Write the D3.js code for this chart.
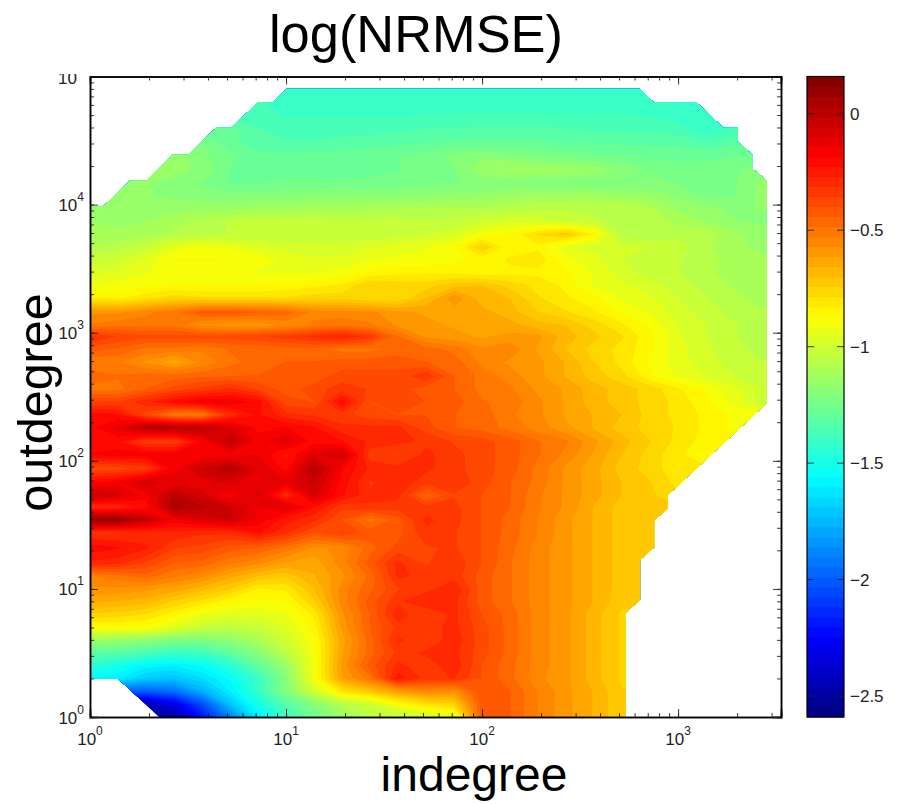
<!DOCTYPE html>
<html>
<head>
<meta charset="utf-8">
<script src="https://cdn.jsdelivr.net/npm/d3@7/dist/d3.min.js"></script>
<style>
  html, body { margin: 0; background: #fff; }
  svg { display: block; font-family: "Liberation Sans", Arial, sans-serif; }
</style>
</head>
<body>
<svg id="chart" width="909" height="804"></svg>
<script>
// log10(indegree) of each column
const indegreeLog = [0, .143, .286, .429, .571, .714, .857, 1, 1.143, 1.286, 1.429, 1.571, 1.714,
  1.857, 2, 2.143, 2.286, 2.429, 2.571, 2.714, 2.857, 3, 3.143, 3.286, 3.429, 3.571];

// log10(outdegree) of each row
const outdegreeLog = [0, .1, .2, .3, .4, .5, .6, .7, .8, .9, 1, 1.1, 1.2, 1.32, 1.44, 1.54, 1.64, 1.73,
  1.83, 1.94, 2.05, 2.15, 2.26, 2.36, 2.46, 2.56, 2.66, 2.77, 2.87, 2.97, 3.06, 3.16, 3.27, 3.37, 3.47,
  3.57, 3.67, 3.77, 3.87, 3.97, 4.07, 4.17, 4.27, 4.38, 4.48, 4.58, 4.69, 4.79, 4.91];

// log(NRMSE) x 100, one row per outdegree (bottom first), null = no data there
const _ = null;
const nrmse = [
  [_,_,_,-250,-220,-190,-160,-140,-125,-115,-105,-105,-100,-95,-40,-44,-53,-60,-66,-74],
  [_,_,-245,-230,-205,-172,-150,-133,-120,-108,-100,-88,-80,-75,-42,-44,-53,-60,-66,-74],
  [_,_,-200,-195,-178,-160,-142,-120,-100,-80,-72,-62,-55,-58,-40,-44,-53,-60,-66,-74],
  [-156,-160,-170,-172,-165,-155,-140,-120,-90,-62,-50,-24,-33,-31,-40,-47,-56,-60,-68,-75],
  [-145,-150,-158,-160,-155,-145,-130,-115,-90,-60,-42,-30,-34,-28,-40,-47,-55,-60,-68,-75],
  [-132,-133,-136,-140,-140,-130,-120,-105,-90,-62,-46,-34,-30,-30,-38,-46,-55,-60,-68,-75],
  [-112,-115,-118,-122,-122,-118,-110,-100,-88,-63,-46,-30,-36,-28,-38,-46,-55,-60,-68,-75],
  [-88,-87,-88,-95,-102,-104,-102,-96,-85,-60,-44,-34,-33,-30,-38,-46,-55,-60,-68,-75],
  [-75,-76,-79,-85,-92,-95,-95,-92,-82,-58,-44,-28,-36,-30,-40,-46,-55,-60,-68,-75],
  [-65,-66,-68,-75,-80,-86,-88,-87,-75,-55,-42,-32,-27,-30,-42,-48,-55,-60,-66,-73,-73],
  [-58,-58,-60,-63,-68,-74,-83,-82,-70,-55,-45,-36,-33,-27,-42,-48,-55,-60,-66,-72,-73],
  [-53,-50,-46,-52,-56,-64,-70,-73,-66,-58,-47,-30,-33,-33,-42,-48,-55,-60,-66,-72,-73],
  [-28,-30,-36,-44,-46,-52,-56,-62,-64,-55,-42,-30,-36,-32,-40,-48,-55,-60,-66,-72,-73],
  [-20,-22,-26,-35,-37,-42,-44,-50,-58,-56,-46,-38,-36,-35,-40,-47,-55,-60,-66,-72,-74],
  [-32,-32,-30,-28,-30,-30,-22,-30,-40,-35,-42,-42,-32,-35,-40,-46,-53,-60,-66,-72,-74],
  [10,10,-2,-15,-10,-5,-15,-25,-30,-40,-50,-42,-30,-34,-40,-46,-53,-60,-66,-72,-74],
  [-30,-28,-22,5,0,-5,-14,-10,-22,-34,-32,-33,-34,-34,-40,-44,-52,-58,-66,-72,-73],
  [-3,-8,-16,0,-8,-18,-8,-30,-8,-22,-30,-30,-46,-36,-40,-44,-52,-58,-64,-70,-73,-78],
  [-20,-15,-6,-12,-12,-8,-14,-12,-4,-20,-32,-28,-34,-32,-38,-44,-50,-58,-64,-70,-74,-80],
  [-38,-38,-34,-15,-5,2,-10,-20,2,-18,-28,-30,-30,-34,-38,-42,-50,-58,-64,-72,-76,-82],
  [-18,-16,-16,-16,-18,-16,-14,-24,-10,-5,-34,-36,-30,-34,-38,-42,-48,-54,-62,-70,-76,-82,-86],
  [-22,-22,-35,-35,-18,-2,-16,-10,-20,-22,-28,-30,-32,-36,-38,-42,-48,-52,-60,-68,-74,-80,-85],
  [-20,-12,2,2,0,-8,-20,-18,-22,-30,-30,-30,-38,-44,-46,-50,-55,-60,-66,-72,-76,-79,-84,-88],
  [-20,-22,-38,-52,-52,-30,-22,-30,-32,-34,-38,-40,-40,-44,-46,-52,-56,-62,-66,-70,-76,-80,-84,-88],
  [-36,-35,-28,-20,-15,-15,-20,-38,-40,-20,-40,-36,-40,-42,-48,-50,-56,-62,-68,-72,-76,-80,-86,-93,-102],
  [-50,-50,-44,-38,-34,-30,-36,-42,-38,-33,-36,-38,-42,-44,-50,-52,-58,-62,-68,-72,-76,-82,-88,-94,-100],
  [-46,-48,-46,-46,-45,-44,-44,-44,-42,-38,-38,-38,-32,-44,-50,-55,-60,-66,-72,-77,-86,-92,-96,-100,-104],
  [-52,-52,-58,-64,-56,-50,-46,-44,-44,-42,-42,-42,-44,-46,-54,-58,-60,-66,-74,-80,-88,-94,-98,-102,-104],
  [-42,-45,-50,-50,-52,-48,-48,-46,-46,-50,-50,-46,-46,-50,-56,-54,-62,-70,-76,-80,-86,-94,-99,-103,-106],
  [-30,-36,-38,-38,-38,-38,-36,-34,-30,-27,-33,-48,-58,-60,-62,-60,-60,-68,-73,-78,-86,-95,-100,-104,-107],
  [-52,-50,-50,-50,-58,-60,-60,-56,-52,-50,-52,-58,-60,-62,-62,-64,-68,-70,-76,-82,-88,-96,-100,-104,-106],
  [-58,-58,-54,-50,-42,-42,-44,-46,-54,-55,-56,-60,-62,-64,-64,-68,-74,-78,-82,-88,-92,-98,-102,-106,-108],
  [-82,-84,-80,-76,-78,-78,-78,-78,-76,-76,-78,-78,-70,-58,-68,-70,-78,-82,-86,-92,-95,-100,-104,-108,-110],
  [-92,-90,-88,-87,-87,-87,-87,-86,-84,-82,-74,-76,-76,-72,-70,-76,-80,-84,-92,-95,-98,-102,-106,-109,-110],
  [-97,-95,-92,-88,-88,-90,-92,-92,-92,-90,-86,-84,-84,-84,-86,-84,-84,-86,-92,-98,-102,-104,-108,-110,-112],
  [-102,-100,-95,-87,-87,-87,-88,-93,-95,-95,-92,-90,-90,-88,-86,-82,-80,-90,-94,-100,-102,-104,-107,-110,-112],
  [-108,-106,-102,-94,-90,-92,-96,-98,-98,-98,-96,-94,-92,-88,-74,-86,-84,-95,-98,-100,-100,-102,-108,-112,-114],
  [-112,-112,-110,-108,-106,-104,-104,-104,-104,-104,-104,-102,-100,-98,-90,-86,-78,-72,-84,-106,-108,-106,-106,-112,-115],
  [-113,-114,-113,-110,-107,-104,-103,-102,-102,-103,-103,-103,-104,-103,-100,-97,-98,-100,-103,-106,-106,-110,-113,-117,-118],
  [-114,-114,-115,-115,-114,-114,-112,-112,-111,-111,-110,-109,-108,-108,-108,-106,-105,-105,-106,-104,-108,-114,-116,-118,-117],
  [_,-117,-117,-118,-120,-120,-120,-119,-119,-118,-118,-118,-117,-116,-116,-114,-112,-112,-112,-114,-115,-118,-122,-122,-116],
  [_,_,-117,-118,-122,-126,-126,-125,-125,-125,-125,-124,-123,-122,-120,-120,-122,-122,-122,-122,-120,-122,-124,-122,-116],
  [_,_,_,-116,-118,-126,-128,-128,-128,-128,-127,-126,-124,-122,-114,-112,-112,-112,-114,-118,-122,-124,-124,-122,-120],
  [_,_,_,-115,-120,-125,-128,-128,-128,-128,-127,-126,-124,-120,-118,-120,-122,-124,-125,-126,-127,-127,-127,-126,-125],
  [_,_,_,_,-122,-128,-134,-134,-134,-133,-132,-131,-130,-129,-129,-129,-129,-130,-130,-131,-131,-131,-134,-131],
  [_,_,_,_,_,-128,-134,-136,-136,-136,-136,-135,-134,-134,-133,-133,-133,-134,-135,-135,-135,-137,-140,-138],
  [_,_,_,_,_,_,-136,-139,-139,-139,-139,-139,-138,-138,-138,-138,-138,-138,-138,-138,-139,-140,-141],
  [_,_,_,_,_,_,-138,-141,-141,-141,-141,-141,-141,-141,-141,-141,-141,-141,-141,-141,-142,-143,-143],
  [_,_,_,_,_,_,_,-143,-143,-143,-143,-143,-143,-143,-143,-143,-143,-143,-143,-143,-143]
];

// outline of the sampled region, in log10 units
const regionIn = [0, .068, .204, .286, .422, .5, .643, .719, .858, .935, 1.004, 2.803, 2.874, 3.092, 3.231, 3.305,
  3.305, 3.379, 3.379, 3.453, 3.453, 2.947, 2.947, 2.878, 2.878, 2.806, 2.806, 2.733, 2.733, .354, .144, 0];
const regionOut = [3.987, 3.987, 4.187, 4.187, 4.39, 4.39, 4.6, 4.6, 4.8, 4.8, 4.904, 4.904, 4.8, 4.8, 4.6, 4.6,
  4.494, 4.39, 4.281, 4.187, 2.45, 1.732, 1.628, 1.534, 1.326, 1.226, .914, .815, 0, 0, .297, .297];

const colorMin = -2.59, colorMax = 0.16, colorLevels = 64;
const colorTicks = [0, -0.5, -1, -1.5, -2, -2.5];
const decades = [1, 10, 100, 1000, 10000, 100000];

const svg = d3.select("#chart");
const margin = { top: 76.5, right: 128, bottom: 87, left: 90 };
const width = 909 - margin.left - margin.right;
const height = 804 - margin.top - margin.bottom;

const x = d3.scaleLog().domain([1, Math.pow(10, 3.525)]).range([0, width]);
const y = d3.scaleLog().domain([1, 1e5]).range([height, 0]);

const g = svg.append("g").attr("transform", "translate(" + margin.left + "," + margin.top + ")");

// MATLAB jet
function jet(t) {
  const ch = (v) => Math.round(255 * Math.max(0, Math.min(1, v)));
  return d3.rgb(ch(1.5 - Math.abs(4 * t - 3)), ch(1.5 - Math.abs(4 * t - 2)), ch(1.5 - Math.abs(4 * t - 1))).formatHex();
}
const levelColor = (i) => jet((i + 0.5) / colorLevels);
const levelValue = (i) => colorMin + (i * (colorMax - colorMin)) / colorLevels;

// fill the cells outside the region with the nearest value of the row, they get clipped anyway
const nCols = indegreeLog.length, nRows = outdegreeLog.length;
const flat = [];
for (let r = nRows - 1; r >= 0; r--) {
  const row = nrmse[r];
  const first = row.findIndex((v) => v !== null);
  for (let c = 0; c < nCols; c++) {
    let v = row[c];
    if (v === null || v === undefined) v = c < first ? row[first] : row[row.length - 1];
    flat.push(v / 100);
  }
}

const colPos = d3.scaleLinear().domain(d3.range(nCols)).range(indegreeLog);
const rowPos = d3.scaleLinear().domain(d3.range(nRows)).range(outdegreeLog.slice().reverse());
const gridPath = d3.geoPath(d3.geoTransform({
  point(px, py) {
    this.stream.point(x(Math.pow(10, colPos(px - 0.5))), y(Math.pow(10, rowPos(py - 0.5))));
  }
}));

const region = d3.zip(regionIn, regionOut).map((p) => [x(Math.pow(10, p[0])), y(Math.pow(10, p[1]))]);
svg.append("defs").append("clipPath").attr("id", "regionClip")
  .append("path").attr("d", d3.line()(region) + "Z");

const thresholds = d3.range(colorLevels).map(levelValue);
const contours = d3.contours().size([nCols, nRows]).smooth(true).thresholds(thresholds)(flat);

// filled bands, lowest first
g.append("g").attr("clip-path", "url(#regionClip)")
  .selectAll("path")
  .data(contours)
  .enter()
  .append("path")
  .attr("d", gridPath)
  .attr("fill", (d, i) => levelColor(i));

// axes, inward ticks on all four sides
function frameAxis(axisFn, scale, tx, ty, size, values) {
  g.append("g")
    .attr("transform", "translate(" + tx + "," + ty + ")")
    .call(axisFn(scale).tickValues(values).tickSize(size).tickFormat(""))
    .call((s) => s.select(".domain").attr("stroke-width", 1.5).attr("stroke", "#000"))
    .call((s) => s.selectAll(".tick line").attr("stroke", "#222").attr("stroke-width", 0.9));
}
const xMajor = decades.slice(0, 4), yMajor = decades;
const xMinor = x.ticks(), yMinor = y.ticks();
frameAxis(d3.axisBottom, x, 0, height, -4, xMinor);
frameAxis(d3.axisTop, x, 0, 0, -4, xMinor);
frameAxis(d3.axisLeft, y, 0, 0, -4, yMinor);
frameAxis(d3.axisRight, y, width, 0, -4, yMinor);
frameAxis(d3.axisBottom, x, 0, height, -8, xMajor);
frameAxis(d3.axisTop, x, 0, 0, -8, xMajor);
frameAxis(d3.axisLeft, y, 0, 0, -8, yMajor);
frameAxis(d3.axisRight, y, width, 0, -8, yMajor);

function powerLabel(sel, value) {
  sel.append("tspan").text("10");
  sel.append("tspan").attr("dy", -10).attr("font-size", 12).text(Math.round(Math.log10(value)));
}
xMajor.forEach((d) => {
  g.append("text").attr("x", x(d)).attr("y", height + 28).attr("text-anchor", "middle")
    .attr("font-size", 17).attr("fill", "#222").call(powerLabel, d);
});
yMajor.slice(0, 5).forEach((d) => {
  g.append("text").attr("x", -6).attr("y", y(d) + 6.5).attr("text-anchor", "end")
    .attr("font-size", 17).attr("fill", "#222").call(powerLabel, d);
});
// the top label is cut in the original, only the base is left
svg.append("clipPath").attr("id", "topLabel").append("rect").attr("x", 40).attr("y", 74).attr("width", 50).attr("height", 20);
svg.append("text").attr("x", 77).attr("y", 84).attr("text-anchor", "end").attr("font-size", 17).attr("fill", "#222")
  .attr("clip-path", "url(#topLabel)").text("10");

// titles
svg.append("text").attr("x", 416).attr("y", 52).attr("text-anchor", "middle").attr("font-size", 52.4).attr("fill", "#000").text("log(NRMSE)");
svg.append("text").attr("x", 474).attr("y", 791).attr("text-anchor", "middle").attr("font-size", 48).attr("fill", "#000").text("indegree");
svg.append("text").attr("transform", "translate(52,402.5) rotate(-90)").attr("text-anchor", "middle").attr("font-size", 48.5).attr("fill", "#000").text("outdegree");

// colorbar
const cbar = svg.append("g").attr("transform", "translate(807,0)");
const cbarWidth = 37;
const c = d3.scaleLinear().domain([colorMin, colorMax]).range([717, 76.5]);
cbar.selectAll("rect.level")
  .data(d3.range(colorLevels))
  .enter()
  .append("rect")
  .attr("class", "level")
  .attr("x", 0)
  .attr("width", cbarWidth)
  .attr("y", (i) => c(levelValue(i + 1)))
  .attr("height", (i) => c(levelValue(i)) - c(levelValue(i + 1)) + 0.5)
  .attr("fill", levelColor);
cbar.append("rect").attr("y", 76.5).attr("width", cbarWidth).attr("height", 640.5)
  .attr("fill", "none").attr("stroke", "#000").attr("stroke-width", 1.2);
colorTicks.forEach((d) => {
  const ty = c(d);
  cbar.append("line").attr("x1", 0).attr("x2", 7).attr("y1", ty).attr("y2", ty).attr("stroke", "#222").attr("stroke-width", 0.9);
  cbar.append("line").attr("x1", cbarWidth - 7).attr("x2", cbarWidth).attr("y1", ty).attr("y2", ty).attr("stroke", "#222").attr("stroke-width", 0.9);
  cbar.append("text").attr("x", cbarWidth + 6).attr("y", ty + 6).attr("font-size", 17).attr("fill", "#222")
    .text(d === 0 ? "0" : "\u2212" + Math.abs(d));
});
</script>
</body>
</html>
